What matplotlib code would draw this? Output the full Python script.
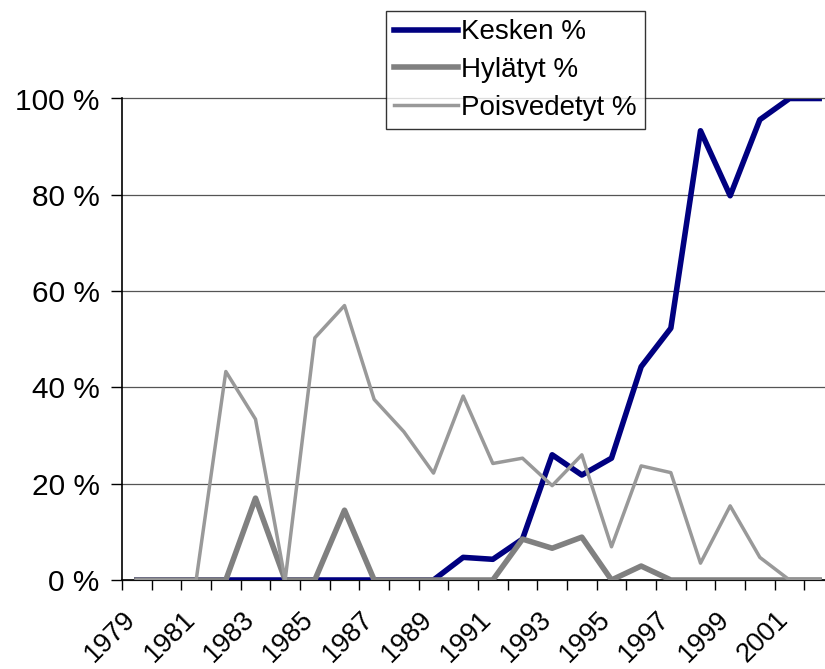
import matplotlib
matplotlib.use("Agg")
import matplotlib.pyplot as plt
import matplotlib.transforms as mtransforms
from matplotlib.ticker import FixedLocator, FuncFormatter

plt.rcParams['font.family'] = ['Liberation Sans', 'DejaVu Sans']

years = list(range(1979, 2003))
kesken = [0, 0, 0, 0, 0, 0, 0, 0, 0, 0, 0, 4.7, 4.3, 8.5, 26.0, 21.8,
          25.3, 44.3, 52.3, 93.3, 79.8, 95.6, 100, 100]
hylatyt = [0, 0, 0, 0, 17.0, 0, 0, 14.5, 0, 0, 0, 0, 0, 8.5, 6.6, 8.9,
           0, 2.9, 0, 0, 0, 0, 0, 0]
poisvedetyt = [0, 0, 0, 43.3, 33.4, 0, 50.3, 57.0, 37.5, 30.8, 22.2, 38.2,
               24.2, 25.3, 19.6, 26.0, 6.9, 23.7, 22.3, 3.5, 15.4, 4.7, 0, 0]
year_labels = [str(y) if (y - 1979) % 2 == 0 else '' for y in years]

fig = plt.figure(figsize=(8.25, 6.69), dpi=100)
# the right edge of the plot area runs past the picture, as in the original
ax = fig.add_axes([122 / 825, 1 - 580 / 669, 712 / 825, 481.5 / 669])

idx = list(range(len(years)))
ax.plot(idx, kesken, color='#000080', lw=4.0, label='Kesken %', zorder=3)
ax.plot(idx, hylatyt, color='#808080', lw=4.0, label='Hylätyt %', zorder=4)
ax.plot(idx, poisvedetyt, color='#999999', lw=2.5, label='Poisvedetyt %', zorder=5)

ax.set_xlim(-0.5, len(years) - 0.5)
ax.set_ylim(0, 100)

ax.set_yticks([0, 20, 40, 60, 80, 100])
ax.yaxis.set_major_formatter(FuncFormatter(lambda v, p: f'{int(v)} %'))
ax.tick_params(axis='y', direction='out', length=8, width=1, labelsize=21.5, pad=8)
ax.grid(axis='y', color='#555555', lw=0.9, zorder=1)
for gl in ax.yaxis.get_gridlines():
    gl.set_clip_on(False)

ax.set_xticks(idx)
ax.set_xticklabels(year_labels, rotation=45, ha='right', rotation_mode='anchor')
ax.tick_params(axis='x', which='major', length=0, labelsize=19.5, pad=19)
shift = mtransforms.ScaledTranslation(-14 / 100, 0, fig.dpi_scale_trans)
for lab in ax.get_xticklabels():
    lab.set_transform(lab.get_transform() + shift)
ax.xaxis.set_minor_locator(FixedLocator([i - 0.5 for i in range(len(years) + 1)]))
ax.tick_params(axis='x', which='minor', direction='out', length=7, width=1)

for s in ['top', 'right']:
    ax.spines[s].set_visible(False)
for s in ['left', 'bottom']:
    ax.spines[s].set_color('black')
    ax.spines[s].set_linewidth(1.2)

leg = fig.legend(loc='upper left', bbox_to_anchor=(386 / 825, 1 - 11 / 669),
                 fontsize=20, frameon=True, fancybox=False, handlelength=2.3,
                 handletextpad=0.1, borderpad=0.3, labelspacing=0.42,
                 borderaxespad=0)
leg.get_frame().set_edgecolor('black')
leg.get_frame().set_linewidth(1)

fig.savefig('out.png', dpi=100)
